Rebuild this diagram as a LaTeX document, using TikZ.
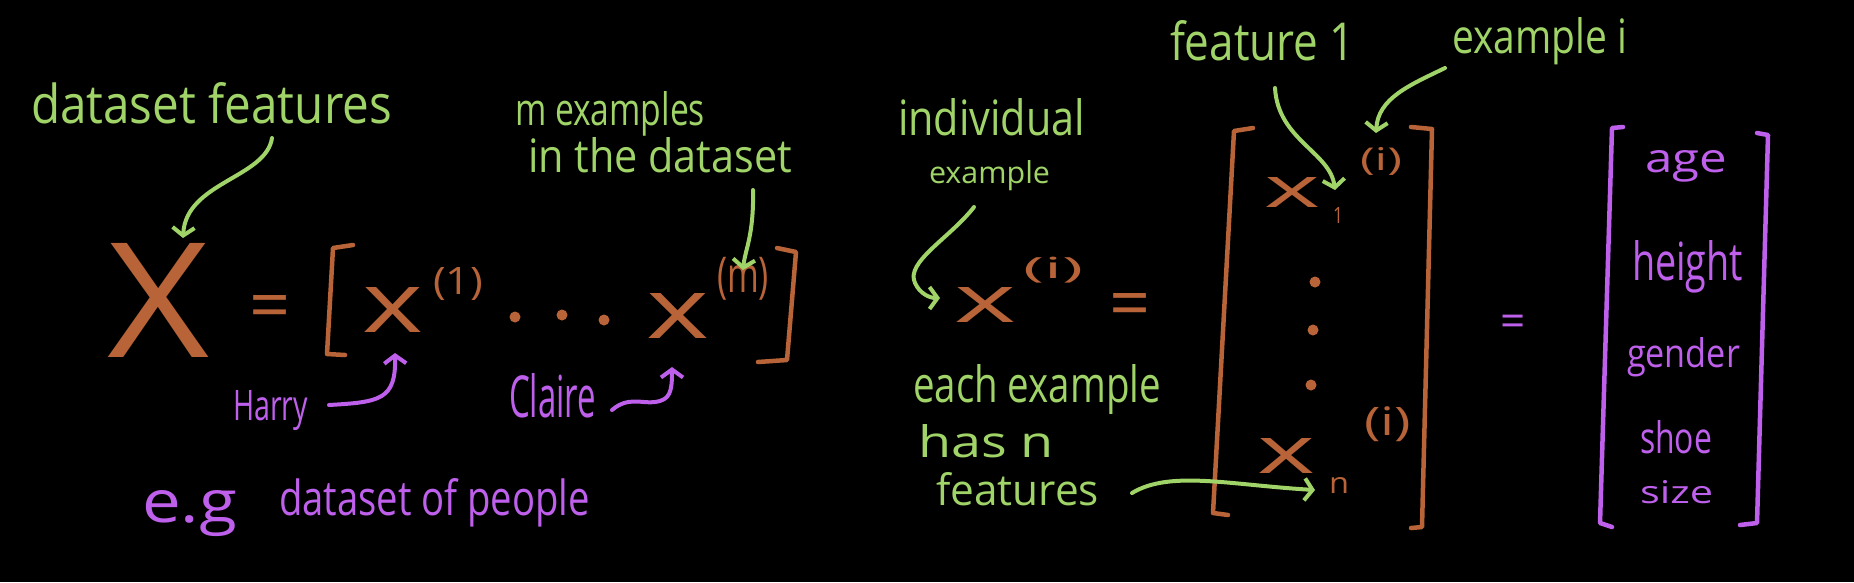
\documentclass[tikz,border=0pt]{standalone}
\usepackage{fontspec}
\usepackage{graphicx}
\setmainfont{Open Sans}
\usetikzlibrary{arrows.meta}
\definecolor{hgreen}{RGB}{160,212,104}
\definecolor{horange}{RGB}{184,100,56}
\definecolor{hpurple}{RGB}{190,96,236}
\newcommand\hwt[3]{\resizebox{#1pt}{#2pt}{#3}}
\newcommand\hwp[3]{\resizebox*{#1pt}{#2pt}{#3}}
\begin{document}
\begin{tikzpicture}[x=1pt,y=-1pt,
  lbl/.style={inner sep=0pt, outer sep=0pt, anchor=base west},
  par/.style={inner sep=0pt, outer sep=0pt, anchor=north west},
  eqs/.style={inner sep=0pt, outer sep=0pt, anchor=center, font=\fontsize{72}{72}\selectfont},
  gtext/.style={text=hgreen},
  otext/.style={text=horange},
  ptext/.style={text=hpurple},
  garrow/.style={draw=hgreen, line width=4pt, line cap=round, line join=round, -{Straight Barb[length=8pt,width=22pt]}},
  parrow/.style={draw=hpurple, line width=4pt, line cap=round, line join=round, -{Straight Barb[length=8pt,width=22pt]}},
  obr/.style={draw=horange, line width=4.5pt, line cap=round, line join=round},
  pbr/.style={draw=hpurple, line width=4.5pt, line cap=round, line join=round},
  odot/.style={fill=horange}]
\fill[black] (0,0) rectangle (1854,582);
\useasboundingbox (0,0) rectangle (1854,582);

% ---------- left group ----------
\node[lbl,gtext] (dsf) at (31,123) {\hwt{361}{41}{dataset features}};
\node[lbl,gtext] (mex) at (515,125) {\hwt{190}{34}{m examples}};
\node[lbl,gtext] (ind) at (528,172) {\hwt{264}{35}{in the dataset}};

\node[lbl,otext] (X) at (107,357) {\hwt{102}{114}{X}};
\node[eqs,otext] (eq1) at (270,313) {=};
\draw[obr] (353,245) -- (333,248) -- (327,354) -- (345,355);
\node[lbl,otext] (x1) at (362,332) {\hwt{61}{45}{x}};
\node[par,otext] (s1) at (433,267) {\hwp{50}{33}{(1)}};
\fill[odot] (515,317) circle (5.5pt);
\fill[odot] (562,315) circle (5.5pt);
\fill[odot] (604,320) circle (5.5pt);
\node[lbl,otext] (xm) at (646,338) {\hwt{63}{45}{x}};
\node[par,otext] (sm) at (717,257) {\hwp{52}{43}{(m)}};
\draw[obr] (777,248) -- (796,252) -- (787,360) -- (758,362);

\node[lbl,ptext] (harry) at (233,420) {\hwt{75}{30}{Harry}};
\node[lbl,ptext] (claire) at (509,417) {\hwt{87}{44}{Claire}};
\node[lbl,ptext] (eg) at (142,522) {\hwt{95}{32}{e.g}};
\node[lbl,ptext] (dop) at (279,515) {\hwt{311}{37}{dataset of people}};

\coordinate (a1s) at (272,138);
\coordinate (a1e) at (183,238);
\draw[garrow] (a1s) .. controls (266,178) and (186,182) .. (a1e);
\coordinate (a2s) at (753,190);
\coordinate (a2e) at (743,270);
\draw[garrow] (a2s) .. controls (754,235) and (745,250) .. (a2e);
\coordinate (h1) at (329,405);
\coordinate (h2) at (395,353);
\draw[parrow] (h1) .. controls (380,402) and (396,400) .. (h2);
\coordinate (c1) at (612,410);
\coordinate (c2) at (655,402);
\coordinate (c3) at (672,367);
\draw[parrow] (c1) .. controls (628,396) and (643,404) .. (c2) .. controls (670,400) and (672,392) .. (c3);

% ---------- middle group ----------
\node[lbl,gtext] (indiv) at (898,135) {\hwt{187}{37}{individual}};
\node[lbl,gtext] (index) at (929,183) {\hwt{121}{23}{example}};
\node[lbl,gtext] (feat1) at (1170,60) {\hwt{185}{40}{feature 1}};
\node[lbl,gtext] (exi) at (1452,53) {\hwt{175}{36}{example i}};
\node[lbl,gtext] (each) at (913,402) {\hwt{248}{38}{each example}};
\node[lbl,gtext] (hasn) at (918,457) {\hwt{136}{33}{has n}};
\node[lbl,gtext] (feats) at (936,505) {\hwt{163}{33}{features}};

\node[lbl,otext] (xi) at (954,322) {\hwt{62}{35}{x}};
\node[par,otext] (si) at (1023,257) {\hwp{60}{26}{(i)}};
\node[eqs,otext] (eq2) at (1130,311) {=};

\draw[obr] (1253,128) -- (1234,131) -- (1213,513) -- (1228,515);
\draw[obr] (1411,127) -- (1432,129) -- (1422,527) -- (1411,528);
\node[lbl,otext] (xa) at (1264,207) {\hwt{56}{30}{x}};
\node[lbl,otext] (sub1) at (1333,223) {\hwt{10}{16}{1}};
\node[par,otext] (sa) at (1360,147) {\hwp{42}{28}{(i)}};
\fill[odot] (1315,282) circle (5.5pt);
\fill[odot] (1313,330) circle (5.5pt);
\fill[odot] (1311,385) circle (5.5pt);
\node[lbl,otext] (xn) at (1257,473) {\hwt{58}{35}{x}};
\node[lbl,otext] (subn) at (1329,493) {\hwt{20}{16}{n}};
\node[par,otext] (sn) at (1364,407) {\hwp{47}{35}{(i)}};

\coordinate (i1) at (974,207);
\coordinate (i2) at (915,283);
\coordinate (i3) at (940,298);
\draw[garrow] (i1) .. controls (950,238) and (905,262) .. (i2) .. controls (920,294) and (930,298) .. (i3);
\coordinate (f1s) at (1275,88);
\coordinate (f1e) at (1335,190);
\draw[garrow] (f1s) .. controls (1278,140) and (1330,152) .. (f1e);
\coordinate (e1s) at (1445,68);
\coordinate (e1e) at (1376,133);
\draw[garrow] (e1s) .. controls (1410,85) and (1378,98) .. (e1e);
\coordinate (n1s) at (1132,493);
\coordinate (n1e) at (1315,490);
\draw[garrow] (n1s) .. controls (1170,470) and (1230,485) .. (n1e);

% ---------- right group ----------
\node[eqs,ptext,font=\fontsize{44}{44}\selectfont] (eq3) at (1513,326) {=};
\draw[pbr] (1623,127) -- (1612,128) -- (1600,523) -- (1612,527);
\draw[pbr] (1757,133) -- (1768,135) -- (1757,523) -- (1740,525);
\node[lbl,ptext] (age) at (1645,172) {\hwt{82}{22}{age}};
\node[lbl,ptext] (height) at (1632,280) {\hwt{111}{40}{height}};
\node[lbl,ptext] (gender) at (1627,367) {\hwt{113}{30}{gender}};
\node[lbl,ptext] (shoe) at (1640,453) {\hwt{72}{33}{shoe}};
\node[lbl,ptext] (size) at (1640,503) {\hwt{73}{23}{size}};
\end{tikzpicture}
\end{document}
